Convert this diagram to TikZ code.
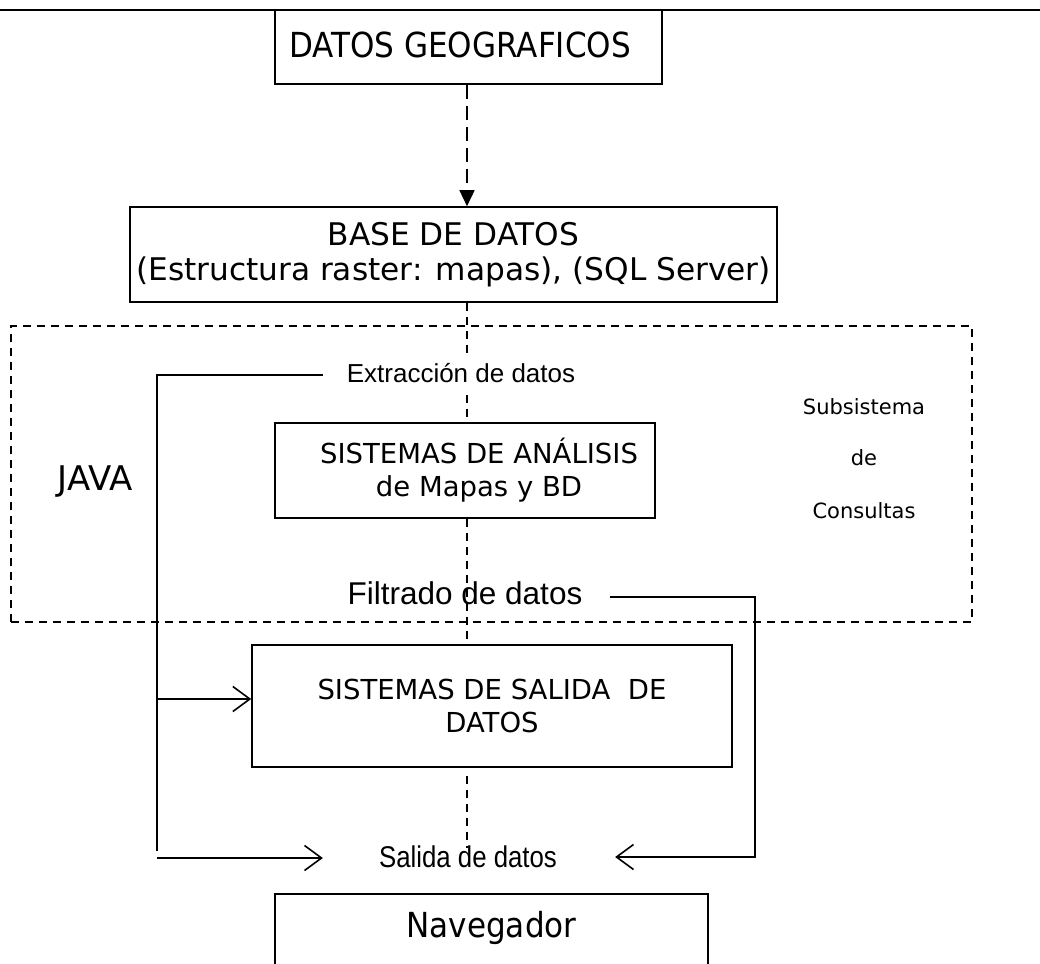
\documentclass[tikz,border=0pt]{standalone}
\usepackage{fontspec}
\setmainfont{DejaVu Sans}
\newfontfamily\arialf{Liberation Sans}
\newfontfamily\condf[FakeStretch=0.9]{DejaVu Sans}
\newfontfamily\narrowf[FakeStretch=0.86]{Liberation Sans}
\usetikzlibrary{arrows.meta}
\begin{document}
\begin{tikzpicture}[x=1pt,y=-1pt,
  box/.style={draw,line width=1.6pt,inner sep=0pt,align=center},
  ln/.style={line width=1.6pt},
  dsh/.style={line width=1.5pt,dash pattern=on 8pt off 6pt},
  longdsh/.style={line width=1.5pt,dash pattern=on 14pt off 7pt},
  barb/.style={-{Straight Barb[length=17pt,width=25pt,line width=1.6pt]}},
  tri/.style={-{Triangle[length=16pt,width=15pt]}},
  lbl/.style={inner sep=2pt}
]
\useasboundingbox (0,0) rectangle (1040,963);
\clip (0,0) rectangle (1040,963);
\fill[white] (0,0) rectangle (1040,963);

% top rule
\draw[ln] (0,10) -- (1040,10);

% boxes
\node[box,minimum width=387pt,minimum height=74pt,font=\condf\fontsize{34.5}{40}\selectfont] (datos) at (468.5,47) {\hspace*{-17pt}\raisebox{4pt}{DATOS GEOGRAFICOS}};
\node[box,minimum width=647pt,minimum height=95pt,font=\fontsize{31.2}{35}\selectfont] (base) at (453.5,254.5) {BASE DE DATOS\\(Estructura raster: mapas), (SQL Server)};
\node[box,minimum width=380pt,minimum height=95pt,font=\fontsize{27.5}{33}\selectfont] (anal) at (465,470.5) {\hspace*{28pt}SISTEMAS DE ANÁLISIS\\\hspace*{28pt}de Mapas y BD};
\node[box,minimum width=480pt,minimum height=122pt,font=\fontsize{27.5}{33}\selectfont] (salbox) at (492,706) {SISTEMAS DE SALIDA\ \ DE\\DATOS};
\node[box,minimum width=433pt,minimum height=120pt,anchor=north] (nav) at (491.5,893) {};
\node[lbl,anchor=center,font=\condf\fontsize{34.5}{40}\selectfont] (navtxt) at (491.5,928) {Navegador};

% dashed region
\node[draw,dsh,minimum width=961pt,minimum height=296pt,inner sep=0pt] (region) at (491.5,474) {};

% free labels
\node[lbl,font=\fontsize{34}{40}\selectfont] (java) at (95,482) {JAVA};
\node[lbl,font=\fontsize{21}{25}\selectfont] (sub1) at (864,407) {Subsistema};
\node[lbl,font=\fontsize{21}{25}\selectfont] (sub2) at (864,458) {de};
\node[lbl,font=\fontsize{21}{25}\selectfont] (sub3) at (864,511) {Consultas};

\node[lbl,font=\arialf\fontsize{26}{30}\selectfont] (extr) at (461,373) {Extracción de datos};
\node[lbl,font=\arialf\fontsize{31.5}{36}\selectfont] (filt) at (465,593) {Filtrado de datos};
\node[lbl,font=\narrowf\fontsize{30}{35}\selectfont] (sal) at (468,857) {Salida de datos};

% spine connectors
\coordinate (spine) at (467,0);
\draw[longdsh,tri] (datos.south -| spine) -- (base.north -| spine);
\draw[dsh] (base.south -| spine) -- ([yshift=8pt]extr.north -| spine);
\draw[dsh] ([yshift=-10pt]extr.south -| spine) -- (anal.north -| spine);
\draw[dsh] (anal.south -| spine) -- (salbox.north -| spine);
\draw[dsh] ([yshift=-8pt]salbox.south -| spine) -- ([yshift=-4pt]sal.north -| spine);

% left feedback
\coordinate (lt) at (157,375);
\coordinate (lc) at (157,851);
\coordinate (lb) at (157,699);
\coordinate (lbot) at (157,858);
\draw[ln] ([xshift=-22pt]extr.west |- lt) -- (lt) -- (lc);
\draw[ln,barb] (lb) -- (lb -| salbox.west);
\draw[ln,barb] (lbot) -- ([xshift=-54pt]sal.west |- lbot);

% right feedback
\coordinate (rt) at (755,597);
\draw[ln,barb] ([xshift=25pt]filt.east |- rt) -- (rt) -- (rt |- sal.east) -- ([xshift=56pt]sal.east);
\end{tikzpicture}
\end{document}
